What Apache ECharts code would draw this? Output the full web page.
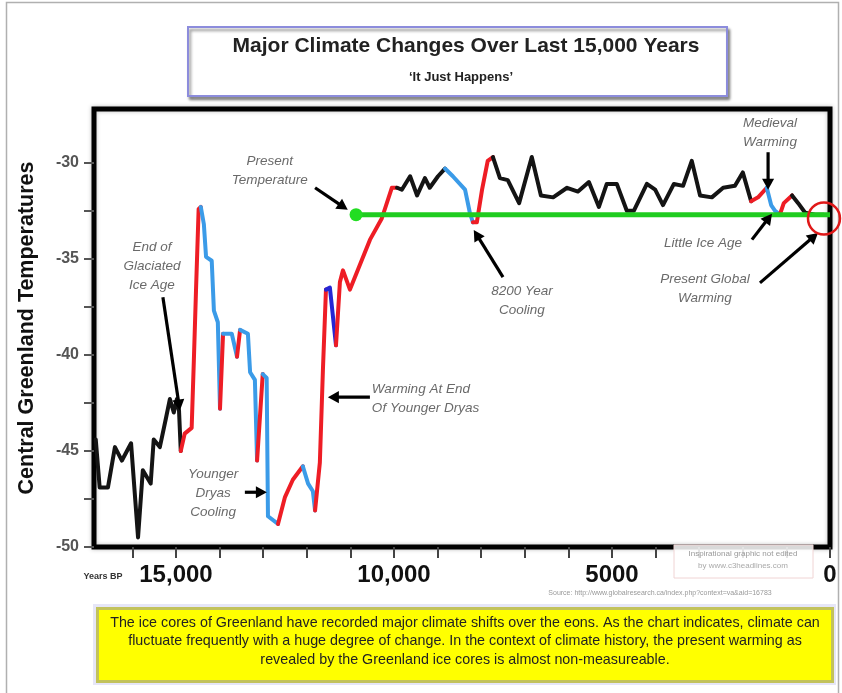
<!DOCTYPE html>
<html><head><meta charset="utf-8">
<script src="https://cdn.jsdelivr.net/npm/echarts@6/dist/echarts.min.js"></script>
<style>html,body{margin:0;padding:0;background:#fff}#c{width:842px;height:693px}</style>
</head><body><div id="c"></div>
<script>
// ---- data ----
const years = [16840,16750,16560,16400,16240,16030,15870,15760,15580,15510,15370,15230,15140,15050,14980,14930,14890,
  14800,14640,14590,14540,14480,14430,
  14360,14310,14180,14130,14040,13990,
  13920,13720,13600,13530,13350,13300,13190,13140,13010,12920,12890,12660,
  12500,12320,12090,11970,11860,11810,11700,11630,11560,11470,11330,11240,11170,11010,10550,10280,10050,9930,
  9820,9630,9470,9290,9180,8990,8830,
  8650,8370,8260,8190,8100,7980,7850,7730,
  7570,7390,7130,6840,6630,6350,6030,5780,5530,5300,5120,4890,4660,4500,4200,4010,3830,3580,3370,3170,2980,2710,2450,2180,2000,1810,
  1650,1450,1350,1260,1150,1060,870,730,570,340,140];
const temps = [-44.4,-46.9,-46.9,-44.8,-45.5,-44.6,-49.5,-46.0,-46.7,-44.4,-44.8,-43.3,-42.3,-43.0,-42.3,-42.9,-45.0,
  -44.1,-43.8,-40.3,-36.6,-32.4,-32.3,
  -33.2,-34.9,-35.1,-37.7,-38.3,-42.8,
  -38.9,-38.9,-40.1,-38.7,-38.9,-40.9,-41.3,-45.5,-41.0,-41.2,-48.4,-48.8,
  -47.4,-46.5,-45.8,-46.7,-47.1,-48.1,-45.6,-40.8,-36.6,-36.5,-39.5,-36.2,-35.6,-36.6,-34.0,-32.9,-31.3,-31.3,
  -31.4,-30.7,-31.7,-30.8,-31.3,-30.7,-30.3,
  -30.7,-31.4,-32.6,-33.1,-33.1,-31.4,-29.9,-29.7,
  -30.8,-30.9,-32.1,-29.7,-31.7,-31.8,-31.3,-31.5,-31.0,-32.3,-31.1,-31.1,-32.5,-32.5,-31.1,-31.4,-32.2,-31.1,-31.2,-29.9,-31.7,-31.8,-31.3,-31.2,-30.5,-32.0,
  -31.8,-31.3,-32.2,-32.5,-32.7,-32.1,-31.7,-32.1,-32.6,-32.7,-32.7];
// trend of the stretch that ends at each point: b = steady, w = warming, c = cooling, d = cooling (dark)
const trend = ['b','b','b','b','b','b','b','b','b','b','b','b','b','b','b','b','b',
  'w','w','w','w','w','w',
  'c','c','c','c','c','c',
  'w','c','c','w','c','c','c','c','w','c','c','c',
  'w','w','w','c','c','c','w','w','w','d','d','w','w','w','w','w','w','w',
  'b','b','b','b','b','b','b',
  'c','c','c','c','w','w','w','w',
  'b','b','b','b','b','b','b','b','b','b','b','b','b','b','b','b','b','b','b','b','b','b','b','b','b','b',
  'w','w','c','c','c','w','w','b','b','b','b'];
const presentTemp = -32.7;
const presentFromYear = 10870;
const xTickValues = [0,1000,2000,3000,4000,5000,6000,7000,8000,9000,10000,11000,12000,13000,14000,15000,16000];
const xLabelValues = [0,5000,10000,15000];
const xTickLabels = {15000:'15,000', 10000:'10,000', 5000:'5000', 0:'0'};
const yTickValues = [-50,-47.5,-45,-42.5,-40,-37.5,-35,-32.5,-30];
const yLabelValues = [-50,-45,-40,-35,-30];
const titleText = 'Major Climate Changes Over Last 15,000 Years';
const subtitleText = '\u2018It Just Happens\u2019';
const noteLines = [
  'The ice cores of Greenland have recorded major climate shifts over the eons. As the chart indicates, climate can',
  'fluctuate frequently with a huge degree of change. In the context of climate history, the present warming as',
  'revealed by the Greenland ice cores is almost non-measureable.'];
// annotations: text anchor and arrow ends given in data coordinates [years BP, temperature]
const annotations = [
  {text:'Present\nTemperature', at:[12850,-30.4], from:[11810,-31.3], to:[11060,-32.45]},
  {text:'End of\nGlaciated\nIce Age', at:[15550,-35.4], from:[15300,-37.0], to:[14910,-42.9]},
  {text:'Younger\nDryas\nCooling', at:[14150,-47.2], from:[13420,-47.15], to:[12915,-47.15]},
  {text:'Warming At End\nOf Younger Dryas', at:[10507,-42.3], align:'left', from:[10552,-42.2], to:[11516,-42.2]},
  {text:'8200 Year\nCooling', at:[7066,-37.2], from:[7500,-35.95], to:[8170,-33.5]},
  {text:'Medieval\nWarming', at:[1376,-28.45], from:[1420,-29.45], to:[1420,-31.4]},
  {text:'Little Ice Age', at:[2913,-34.2], from:[1790,-34.0], to:[1330,-32.65]},
  {text:'Present Global\nWarming', at:[2867,-36.55], from:[1606,-36.25], to:[275,-33.65]}
];
const circleAt = [138,-32.9];

// ---- build ----
const trendColor = {b:'#141414', w:'#ee1d25', c:'#3b9be8', d:'#2626d4'};
const segs = [];
let cur = null;
for (let i = 1; i < years.length; i++) {
  const t = trend[i];
  if (!cur || cur.t !== t) { cur = {t, pts:[[years[i-1], temps[i-1]]]}; segs.push(cur); }
  cur.pts.push([years[i], temps[i]]);
}
const series = segs.map(s => ({
  type:'line', data:s.pts, showSymbol:false, silent:true, animation:false, z:3,
  lineStyle:{color:trendColor[s.t], width:4, cap:'round', join:'round'}
}));
series.push({
  type:'line', silent:true, animation:false, z:5,
  data:[{value:[presentFromYear, presentTemp], symbol:'circle', symbolSize:13}, {value:[0, presentTemp], symbol:'none'}],
  showSymbol:true, itemStyle:{color:'#22dd22'},
  lineStyle:{color:'#1fcc1f', width:5}
});

const chart = echarts.init(document.getElementById('c'), null, {renderer:'canvas'});
chart.setOption({
  animation:false,
  grid:{left:94, right:12, top:109, bottom:146, show:true, borderColor:'#000', borderWidth:5, backgroundColor:'#fff',
        shadowColor:'rgba(0,0,0,0.25)', shadowBlur:4},
  xAxis:{type:'value', inverse:true, min:0, max:16880, interval:1000, position:'bottom',
    axisLine:{show:false, onZero:false}, splitLine:{show:false},
    axisTick:{show:true, length:11, customValues:xTickValues, lineStyle:{color:'#444', width:2}},
    axisLabel:{margin:16, color:'#111', fontSize:24, fontWeight:'bold', fontFamily:'Liberation Sans',
      customValues:xLabelValues, formatter:v => xTickLabels[v] || ''}},
  yAxis:{type:'value', min:-50, max:-27.2, interval:2.5, position:'left',
    axisLine:{show:false, onZero:false}, splitLine:{show:false},
    axisTick:{show:true, length:10, customValues:yTickValues, lineStyle:{color:'#555', width:2}},
    axisLabel:{margin:15, color:'#555', fontSize:16, fontWeight:'bold', fontFamily:'Liberation Sans',
      customValues:yLabelValues, formatter:v => yLabelValues.indexOf(v) >= 0 ? String(v) : ''},
    name:'Central Greenland Temperatures', nameLocation:'middle', nameGap:56, nameRotate:90,
    nameTextStyle:{fontSize:21.5, fontWeight:'bold', color:'#111', fontFamily:'Liberation Sans'}},
  series
});

function arrow(p0, p1, w, head) {
  const dx = p1[0]-p0[0], dy = p1[1]-p0[1], L = Math.hypot(dx, dy), ux = dx/L, uy = dy/L;
  const bx = p1[0]-ux*head, by = p1[1]-uy*head, px = -uy*head*0.55, py = ux*head*0.55;
  return [
    {type:'line', z:20, shape:{x1:p0[0], y1:p0[1], x2:bx+ux*2, y2:by+uy*2}, style:{stroke:'#000', lineWidth:w}},
    {type:'polygon', z:20, shape:{points:[[p1[0],p1[1]],[bx+px,by+py],[bx-px,by-py]]}, style:{fill:'#000'}}
  ];
}
const px = p => chart.convertToPixel({gridIndex:0}, p);
const g = [];
// outer frame
g.push({type:'rect', z:0, shape:{x:6.5, y:2.5, width:832, height:700}, style:{fill:'none', stroke:'#b0b0b0', lineWidth:1.5}});
// title box
g.push({type:'rect', z:10, shape:{x:188, y:27, width:539, height:69},
  style:{fill:'#fff', stroke:'#8c8cdc', lineWidth:2, shadowColor:'rgba(0,0,0,0.45)', shadowBlur:3, shadowOffsetX:2, shadowOffsetY:3}});
g.push({type:'text', z:11, x:466, y:46, style:{text:titleText, font:'bold 21px "Liberation Sans"', fill:'#222', textAlign:'center', textVerticalAlign:'middle'}});
g.push({type:'text', z:11, x:461, y:77, style:{text:subtitleText, font:'bold 13px "Liberation Sans"', fill:'#222', textAlign:'center', textVerticalAlign:'middle'}});
// Years BP
g.push({type:'text', z:11, x:103, y:577, style:{text:'Years BP', font:'bold 9px "Liberation Sans"', fill:'#333', textAlign:'center', textVerticalAlign:'middle'}});
// watermark + source
g.push({type:'rect', z:12, shape:{x:674, y:545, width:139, height:33}, style:{fill:'rgba(255,255,255,0.85)', stroke:'#f0d4d4', lineWidth:1}});
g.push({type:'text', z:13, x:743, y:554, style:{text:'Inspirational graphic not edited', font:'8px "Liberation Sans"', fill:'#999', textAlign:'center', textVerticalAlign:'middle'}});
g.push({type:'text', z:13, x:743, y:566, style:{text:'by www.c3headlines.com', font:'8px "Liberation Sans"', fill:'#aaa', textAlign:'center', textVerticalAlign:'middle'}});
g.push({type:'text', z:13, x:660, y:593, style:{text:'Source: http://www.globalresearch.ca/index.php?context=va&aid=16783', font:'7px "Liberation Sans"', fill:'#999', textAlign:'center', textVerticalAlign:'middle'}});
// note box
g.push({type:'rect', z:10, shape:{x:93, y:604, width:743, height:81}, style:{fill:'#e6e6f7'}});
g.push({type:'rect', z:11, shape:{x:97.5, y:608.5, width:735, height:73}, style:{fill:'#ffff00', stroke:'#c2c25c', lineWidth:3}});
noteLines.forEach((t, i) => g.push({type:'text', z:12, x:465, y:623 + i*18.5,
  style:{text:t, font:'14.3px "Liberation Sans"', fill:'#222', textAlign:'center', textVerticalAlign:'middle'}}));
// annotations
annotations.forEach(a => {
  const p = px(a.at);
  g.push({type:'text', z:21, x:p[0], y:p[1], style:{text:a.text, font:'italic 13.5px "Liberation Sans"', fill:'#6a6a6a',
    textAlign:a.align || 'center', textVerticalAlign:'middle', lineHeight:19}});
  arrow(px(a.from), px(a.to), 3.2, 11).forEach(e => g.push(e));
});
const c = px(circleAt);
g.push({type:'circle', z:22, shape:{cx:c[0], cy:c[1], r:16}, style:{fill:'none', stroke:'#e01818', lineWidth:2.5}});
chart.setOption({graphic:g});
</script></body></html>
